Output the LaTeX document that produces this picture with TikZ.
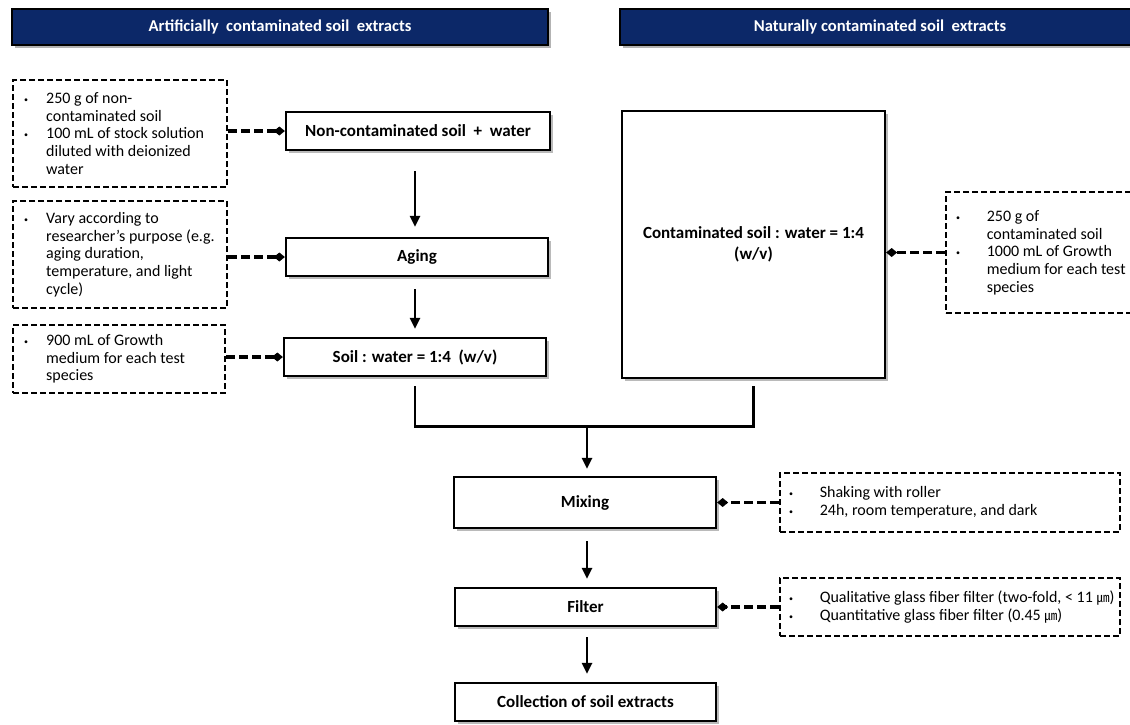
\documentclass[tikz,border=0pt]{standalone}
\usepackage{fontspec}
\setmainfont{Carlito}
\newfontfamily\cjk{Noto Sans CJK KR}
\usetikzlibrary{arrows.meta,shadows,calc}
\definecolor{navy}{RGB}{12,40,104}
\newcommand{\bl}[1][22pt]{\makebox[#1][l]{\raisebox{0.15ex}{\fontsize{8}{8}\selectfont\textbullet}}}
\newcommand{\ind}[1][22pt]{\hspace*{#1}}
\tikzset{
  mainbox/.style={draw=black, line width=2.3pt, fill=white, inner sep=2pt, align=center,
    font=\fontsize{17}{21}\selectfont\bfseries,
    drop shadow={shadow xshift=3pt, shadow yshift=-3pt, fill=black!45, opacity=0.6}},
  headbox/.style={draw=black, line width=1.8pt, fill=navy, text=white, inner sep=0pt,
    font=\fontsize{16.6}{18}\selectfont\bfseries,
    drop shadow={shadow xshift=3pt, shadow yshift=-3pt, fill=black!50, opacity=0.6}},
  notebox/.style={draw=black, line width=2pt, dash pattern=on 6pt off 3pt, inner sep=0pt},
  notetext/.style={inner sep=0pt, align=left, anchor=west, font=\fontsize{16}{17.7}\selectfont},
  flow/.style={draw=black, line width=2.8pt, -{Triangle[length=11pt,width=10pt]}},
  joinline/.style={draw=black, line width=2.8pt},
  link/.style={draw=black, line width=3.6pt, dash pattern=on 9pt off 4pt,
    -{Diamond[length=11pt,width=9pt]}},
}
\begin{document}
\begin{tikzpicture}[x=1pt,y=-1pt]
\useasboundingbox (0,0) rectangle (1130,724);
\clip (0,0) rectangle (1130,724);
% headers
\node[headbox, minimum width=536, minimum height=36] (hL) at (280,27) {Artificially\ \ contaminated soil\ \ extracts};
\node[headbox, minimum width=520, minimum height=36] (hR) at (880,27) {Naturally contaminated soil\ \ extracts};
% main boxes
\node[mainbox, minimum width=264, minimum height=38] (b1) at (418,131) {Non-contaminated soil\ \ +\ \ water};
\node[mainbox, minimum width=262, minimum height=38] (ag) at (417,257) {Aging};
\node[mainbox, minimum width=262, minimum height=38] (s3) at (415,357) {Soil : water = 1:4\ \ (w/v)};
\node[mainbox, minimum width=263, minimum height=267] (big) at (753.5,244.5) {Contaminated soil : water = 1:4\\(w/v)};
\node[mainbox, minimum width=262, minimum height=51] (mix) at (585,502.5) {Mixing};
\node[mainbox, minimum width=261, minimum height=38] (fil) at (585.5,607) {Filter};
\node[mainbox, minimum width=261, minimum height=38] (col) at (585.5,702) {Collection of soil extracts};
% note boxes
\node[notebox, minimum width=214, minimum height=107] (d1) at (120,133.5) {};
\node[notetext] (t1) at ([xshift=12pt]d1.west) {\bl 250 g of non-\\ \ind contaminated soil\\ \bl 100 mL of stock solution\\ \ind diluted with deionized\\ \ind water};
\node[notebox, minimum width=214, minimum height=107] (d2) at (120,254.5) {};
\node[notetext] (t2) at ([xshift=12pt]d2.west) {\bl Vary according to\\ \ind researcher’s purpose (e.g.\\ \ind aging duration,\\ \ind temperature, and light\\ \ind cycle)};
\node[notebox, minimum width=212, minimum height=68] (d3) at (119,359) {};
\node[notetext] (t3) at ([xshift=12pt]d3.west) {\bl 900 mL of Growth\\ \ind medium for each test\\ \ind species};
\node[notebox, minimum width=194, minimum height=121] (dR) at (1043,252.5) {};
\node[notetext] (tR) at ([xshift=11pt]dR.west) {\bl[27pt] 250 g of\\ \ind[27pt] contaminated soil\\ \bl[27pt] 1000 mL of Growth\\ \ind[27pt] medium for each test\\ \ind[27pt] species};
\node[notebox, minimum width=340, minimum height=59] (dM) at (950,502.5) {};
\node[notetext] (tM) at ([xshift=10pt]dM.west) {\bl[27pt] Shaking with roller\\ \bl[27pt] 24h, room temperature, and dark};
\node[notebox, minimum width=340, minimum height=58] (dF) at (950,607) {};
\node[notetext] (tF) at ([xshift=10pt]dF.west) {\bl[27pt] Qualitative glass fiber filter (two-fold, {\textless} 11 {\cjk\fontsize{13}{14}\selectfont ㎛})\\ \bl[27pt] Quantitative glass fiber filter (0.45 {\cjk\fontsize{13}{14}\selectfont ㎛})};
% flow arrows
\draw[flow] ([yshift=-20pt]b1.south -| s3) -- ([yshift=10pt]ag.north -| s3);
\draw[flow] ([yshift=-12pt]ag.south -| s3) -- ([yshift=8pt]s3.north);
\draw[joinline] ([yshift=-9pt]s3.south) -- ([yshift=-49pt]s3.south) -| ([yshift=-7pt]big.south);
\coordinate (jM) at ([yshift=-49pt]s3.south -| 587,0);
\draw[flow] ([yshift=-1pt]jM) -- ([yshift=7pt]mix.north -| jM);
\draw[flow] ([yshift=-12pt]mix.south -| jM) -- ([yshift=8pt]fil.north -| jM);
\draw[flow] ([yshift=-10pt]fil.south -| jM) -- ([yshift=8pt]col.north -| jM);
% links
\draw[link] (d1.east |- b1.west) -- (b1.west);
\draw[link] (d2.east |- ag.west) -- (ag.west);
\draw[link] (d3.east |- s3.west) -- (s3.west);
\draw[link] (dR.west) -- (dR.west -| big.east);
\draw[link] (dM.west) -- (dM.west -| mix.east);
\draw[link] (dF.west) -- (dF.west -| fil.east);
\end{tikzpicture}
\end{document}
